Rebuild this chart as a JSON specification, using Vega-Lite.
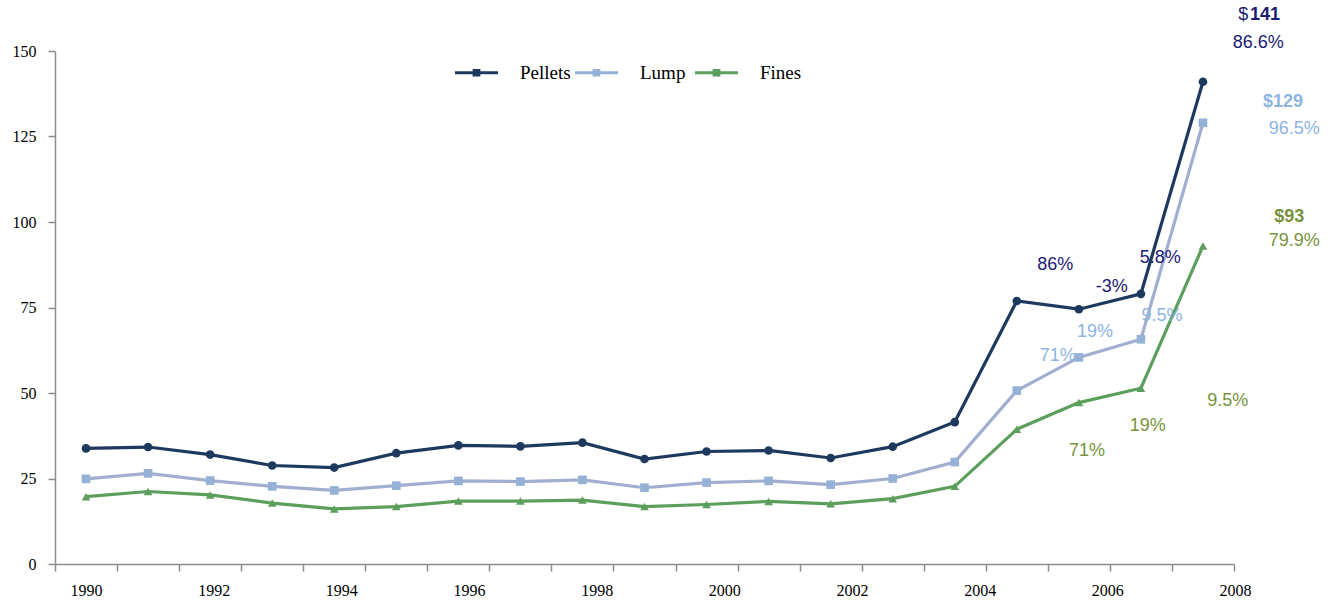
{
  "$schema": "https://vega.github.io/schema/vega-lite/v6.json",
  "width": 1179,
  "height": 513,
  "autosize": "none",
  "padding": {"left": 55, "top": 51, "right": 104, "bottom": 38},
  "background": "white",
  "config": {
    "view": {"stroke": null},
    "axis": {"grid": false, "domainColor": "#8c8c8c", "tickColor": "#8c8c8c", "domainWidth": 1.5, "tickWidth": 1.5, "labelFont": "Liberation Serif", "labelFontSize": 16, "labelColor": "#000", "title": null},
    "text": {"font": "Liberation Sans", "fontSize": 18}
  },
  "datasets": {
    "prices": [
      {"year": 1990, "series": "Pellets", "value": 33.8}, {"year": 1991, "series": "Pellets", "value": 34.2},
      {"year": 1992, "series": "Pellets", "value": 32.0}, {"year": 1993, "series": "Pellets", "value": 28.8},
      {"year": 1994, "series": "Pellets", "value": 28.2}, {"year": 1995, "series": "Pellets", "value": 32.4},
      {"year": 1996, "series": "Pellets", "value": 34.7}, {"year": 1997, "series": "Pellets", "value": 34.4},
      {"year": 1998, "series": "Pellets", "value": 35.5}, {"year": 1999, "series": "Pellets", "value": 30.7},
      {"year": 2000, "series": "Pellets", "value": 32.9}, {"year": 2001, "series": "Pellets", "value": 33.2},
      {"year": 2002, "series": "Pellets", "value": 31.0}, {"year": 2003, "series": "Pellets", "value": 34.3},
      {"year": 2004, "series": "Pellets", "value": 41.5}, {"year": 2005, "series": "Pellets", "value": 76.9},
      {"year": 2006, "series": "Pellets", "value": 74.5}, {"year": 2007, "series": "Pellets", "value": 79.0},
      {"year": 2008, "series": "Pellets", "value": 141},
      {"year": 1990, "series": "Lump", "value": 24.9}, {"year": 1991, "series": "Lump", "value": 26.5},
      {"year": 1992, "series": "Lump", "value": 24.4}, {"year": 1993, "series": "Lump", "value": 22.7},
      {"year": 1994, "series": "Lump", "value": 21.5}, {"year": 1995, "series": "Lump", "value": 22.9},
      {"year": 1996, "series": "Lump", "value": 24.3}, {"year": 1997, "series": "Lump", "value": 24.1},
      {"year": 1998, "series": "Lump", "value": 24.6}, {"year": 1999, "series": "Lump", "value": 22.3},
      {"year": 2000, "series": "Lump", "value": 23.8}, {"year": 2001, "series": "Lump", "value": 24.3},
      {"year": 2002, "series": "Lump", "value": 23.2}, {"year": 2003, "series": "Lump", "value": 25.0},
      {"year": 2004, "series": "Lump", "value": 29.8}, {"year": 2005, "series": "Lump", "value": 50.7},
      {"year": 2006, "series": "Lump", "value": 60.4}, {"year": 2007, "series": "Lump", "value": 65.7},
      {"year": 2008, "series": "Lump", "value": 129},
      {"year": 1990, "series": "Fines", "value": 19.7}, {"year": 1991, "series": "Fines", "value": 21.2},
      {"year": 1992, "series": "Fines", "value": 20.2}, {"year": 1993, "series": "Fines", "value": 17.8},
      {"year": 1994, "series": "Fines", "value": 16.1}, {"year": 1995, "series": "Fines", "value": 16.8},
      {"year": 1996, "series": "Fines", "value": 18.4}, {"year": 1997, "series": "Fines", "value": 18.4},
      {"year": 1998, "series": "Fines", "value": 18.7}, {"year": 1999, "series": "Fines", "value": 16.8},
      {"year": 2000, "series": "Fines", "value": 17.4}, {"year": 2001, "series": "Fines", "value": 18.3},
      {"year": 2002, "series": "Fines", "value": 17.6}, {"year": 2003, "series": "Fines", "value": 19.1},
      {"year": 2004, "series": "Fines", "value": 22.7}, {"year": 2005, "series": "Fines", "value": 39.4},
      {"year": 2006, "series": "Fines", "value": 47.2}, {"year": 2007, "series": "Fines", "value": 51.4},
      {"year": 2008, "series": "Fines", "value": 93}
    ],
    "changes": [
      {"series": "Pellets", "label": "$", "x": 2008.65, "y": 160.5},
      {"series": "Pellets", "label": "86.6%", "x": 2008.89, "y": 152.3},
      {"series": "Pellets", "label": "86%", "x": 2005.62, "y": 87.5},
      {"series": "Pellets", "label": "-3%", "x": 2006.53, "y": 81.0},
      {"series": "Pellets", "label": "5.8%", "x": 2007.31, "y": 89.5},
      {"series": "Lump", "label": "96.5%", "x": 2009.47, "y": 127.2},
      {"series": "Lump", "label": "19%", "x": 2006.26, "y": 67.9},
      {"series": "Lump", "label": "71%", "x": 2005.66, "y": 60.9},
      {"series": "Lump", "label": "9.5%", "x": 2007.34, "y": 72.6},
      {"series": "Fines", "label": "79.9%", "x": 2009.47, "y": 94.4},
      {"series": "Fines", "label": "71%", "x": 2006.13, "y": 33.1},
      {"series": "Fines", "label": "19%", "x": 2007.11, "y": 40.4},
      {"series": "Fines", "label": "9.5%", "x": 2008.40, "y": 47.7}
    ],
    "latest": [
      {"series": "Pellets", "label": "141", "x": 2009.0, "y": 160.5},
      {"series": "Lump", "label": "$129", "x": 2009.29, "y": 135.1},
      {"series": "Fines", "label": "$93", "x": 2009.39, "y": 101.5}
    ]
  },
  "resolve": {"scale": {"color": "independent"}},
  "layer": [
    {
      "data": {"name": "prices"},
      "mark": {"type": "line", "strokeWidth": 3.2},
      "encoding": {
        "x": {
          "field": "year", "type": "quantitative",
          "scale": {"domain": [1989.5, 2008.5], "nice": false, "zero": false},
          "axis": {
            "values": [1989.5, 1990.5, 1991.5, 1992.5, 1993.5, 1994.5, 1995.5, 1996.5, 1997.5, 1998.5, 1999.5, 2000.5, 2001.5, 2002.5, 2003.5, 2004.5, 2005.5, 2006.5, 2007.5, 2008.5],
            "tickSize": 7,
            "labelPadding": 11,
            "labelOverlap": false,
            "labelFlush": false,
            "labelBound": false,
            "labelExpr": "(datum.value - 1989.5) % 2 == 0 && datum.value < 2008 ? toString(datum.value + 0.5) : ''",
            "labelOffset": {"expr": "31 + 1.78 * (datum.value - 1989.5)"}
          }
        },
        "y": {
          "field": "value", "type": "quantitative",
          "scale": {"domain": [0, 150], "nice": false},
          "axis": {"values": [0, 25, 50, 75, 100, 125, 150], "tickSize": 7, "labelPadding": 12}
        },
        "color": {
          "field": "series", "type": "nominal", "legend": null,
          "scale": {"domain": ["Pellets", "Lump", "Fines"], "range": ["#1d3a5e", "#a2aed0", "#5c9e5c"]}
        },
        "order": {"field": "year"}
      }
    },
    {
      "data": {"name": "prices"},
      "mark": {"type": "point", "filled": true, "opacity": 1},
      "encoding": {
        "x": {"field": "year", "type": "quantitative"},
        "y": {"field": "value", "type": "quantitative"},
        "shape": {
          "field": "series", "type": "nominal", "legend": null,
          "scale": {"domain": ["Pellets", "Lump", "Fines"], "range": ["circle", "square", "triangle-up"]}
        },
        "size": {"value": 75},
        "color": {
          "field": "series", "type": "nominal",
          "scale": {"domain": ["Pellets", "Lump", "Fines"], "range": ["#1d3a5e", "#95b1d6", "#5c9e5c"]},
          "legend": {
            "title": null,
            "orient": "none",
            "direction": "horizontal",
            "legendX": 400,
            "legendY": 0,
            "gridAlign": "all",
            "columnPadding": 4,
            "labelOffset": 22,
            "labelFont": "Liberation Serif",
            "labelFontSize": 19,
            "labelColor": "#000",
            "symbolType": "M-1,-0.075H1V0.075H-1Z M-0.18,-0.18H0.18V0.18H-0.18Z",
            "symbolSize": 1849,
            "symbolStrokeWidth": 0,
            "symbolOpacity": 1
          }
        }
      }
    },
    {
      "data": {"name": "changes"},
      "mark": {"type": "text", "align": "center", "baseline": "middle"},
      "encoding": {
        "x": {"field": "x", "type": "quantitative"},
        "y": {"field": "y", "type": "quantitative"},
        "text": {"field": "label"},
        "color": {
          "field": "series", "type": "nominal", "legend": null,
          "scale": {"domain": ["Pellets", "Lump", "Fines"], "range": ["#1b1b74", "#8db4e2", "#77933c"]}
        }
      }
    },
    {
      "data": {"name": "latest"},
      "mark": {"type": "text", "align": "center", "baseline": "middle", "fontWeight": "bold"},
      "encoding": {
        "x": {"field": "x", "type": "quantitative"},
        "y": {"field": "y", "type": "quantitative"},
        "text": {"field": "label"},
        "color": {
          "field": "series", "type": "nominal", "legend": null,
          "scale": {"domain": ["Pellets", "Lump", "Fines"], "range": ["#1b1b74", "#8db4e2", "#77933c"]}
        }
      }
    }
  ]
}
